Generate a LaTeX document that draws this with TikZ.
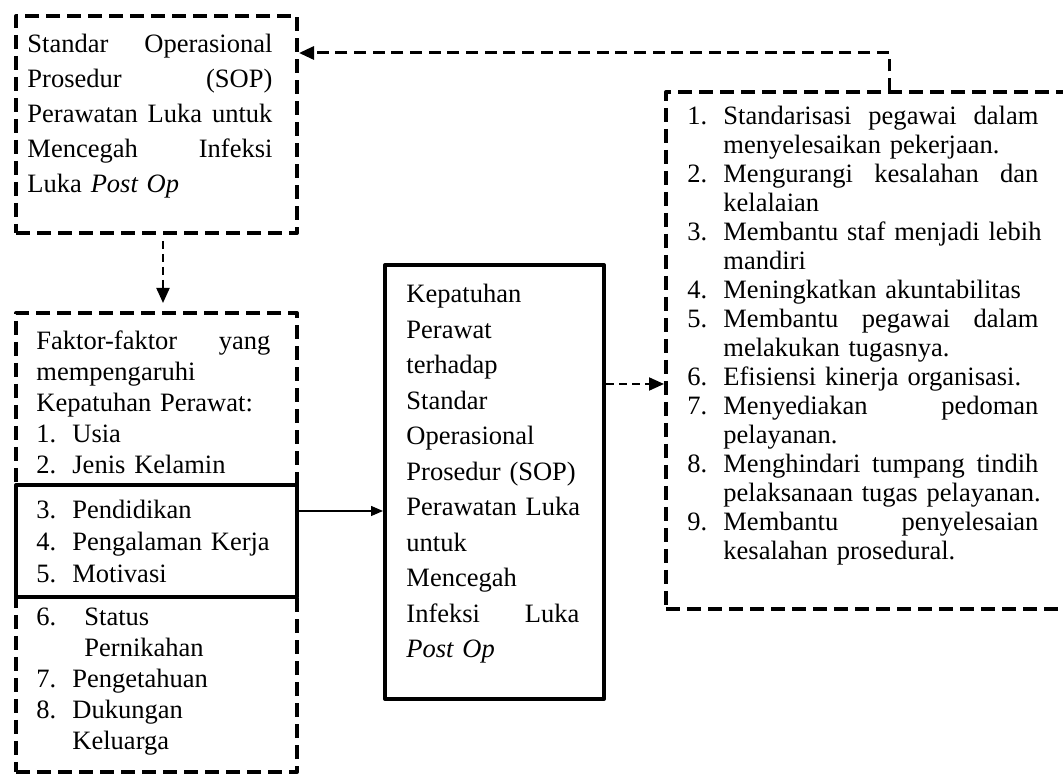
\documentclass[tikz,border=0pt]{standalone}
\usepackage{fontspec}
\setmainfont{Liberation Serif}
\usetikzlibrary{arrows.meta}
\newcommand{\numbox}[1]{\makebox[16.2pt][l]{#1}}
\newcommand{\numboxw}[1]{\makebox[21.6pt][l]{#1}}
\begin{document}
\begin{tikzpicture}[x=0.45pt,y=-0.45pt,
  dbox/.style={draw, line width=1.8pt, dash pattern=on 6.3pt off 3.15pt, line join=round, inner sep=0pt, anchor=north west},
  sbox/.style={draw, line width=1.8pt, line join=round, inner sep=0pt, anchor=north west},
  txt/.style={inner sep=0pt, anchor=base west, align=left},
  tipbig/.style={-{Triangle[length=6.75pt,width=5.85pt]}},
  dtop/.style={line width=1.35pt, dash pattern=on 5.4pt off 3pt, tipbig},
  dthin/.style={line width=0.9pt, dash pattern=on 3.6pt off 2.25pt, tipbig},
  sarrow/.style={line width=0.6pt, -{Triangle[length=5.4pt,width=4.5pt]}}]
\clip (0,0) rectangle (1063,775);
% boxes
\node[dbox, minimum width=126.45pt, minimum height=97.65pt] (tl) at (14,14) {};
\node[dbox, minimum width=126.45pt, minimum height=206.55pt] (lb) at (14,311) {};
\node[sbox, minimum width=126.45pt, minimum height=50.4pt] (sb) at (14,483) {};
\node[sbox, minimum width=98.55pt, minimum height=195.3pt] (mb) at (383,263) {};
\node[dbox, minimum width=187.2pt, minimum height=232.65pt] (rb) at (664,90) {};
% texts
\node[txt, text width=110.25pt, font=\fontsize{11.93pt}{15.66pt}\selectfont] (tltext) at (27,53) {%
Standar\hfill Operasional\\
Prosedur\hfill (SOP)\\
Perawatan\hfill Luka\hfill untuk\\
Mencegah\hfill Infeksi\\
Luka \textit{Post Op}};
\node[txt, text width=105.3pt, font=\fontsize{11.93pt}{13.95pt}\selectfont] (lbtext) at (36,350) {%
Faktor-faktor\hfill yang\\
mempengaruhi\\
Kepatuhan Perawat:\\
\numbox{1.}Usia\\
\numbox{2.}Jenis Kelamin};
\node[txt, text width=105.3pt, font=\fontsize{11.93pt}{14.3pt}\selectfont] (sbtext) at (36,519) {%
\numbox{3.}Pendidikan\\
\numbox{4.}\mbox{Pengalaman Kerja}\\
\numbox{5.}Motivasi};
\node[txt, text width=105.3pt, font=\fontsize{11.93pt}{13.95pt}\selectfont] (lbtext2) at (36,626) {%
\numboxw{6.}Status\\
\hspace*{21.6pt}Pernikahan\\
\numbox{7.}Pengetahuan\\
\numbox{8.}Dukungan\\
\hspace*{16.2pt}Keluarga};
\node[txt, text width=77.85pt, font=\fontsize{11.93pt}{15.98pt}\selectfont] (mbtext) at (406,302.5) {%
Kepatuhan\\
Perawat\\
terhadap\\
Standar\\
Operasional\\
\mbox{Prosedur (SOP)}\\
\mbox{Perawatan Luka}\\
untuk\\
Mencegah\\
Infeksi\hfill Luka\\
\textit{Post Op}};
\node[txt, text width=157.95pt, font=\fontsize{11.93pt}{13.05pt}\selectfont] (rbtext) at (687,125) {%
\numbox{1.}Standarisasi\hfill pegawai\hfill dalam\\
\hspace*{16.2pt}menyelesaikan pekerjaan.\\
\numbox{2.}Mengurangi\hfill kesalahan\hfill dan\\
\hspace*{16.2pt}kelalaian\\
\numbox{3.}\mbox{Membantu staf menjadi lebih}\\
\hspace*{16.2pt}mandiri\\
\numbox{4.}Meningkatkan akuntabilitas\\
\numbox{5.}Membantu\hfill pegawai\hfill dalam\\
\hspace*{16.2pt}melakukan tugasnya.\\
\numbox{6.}Efisiensi kinerja organisasi.\\
\numbox{7.}Menyediakan\hfill pedoman\\
\hspace*{16.2pt}pelayanan.\\
\numbox{8.}Menghindari\hfill tumpang\hfill tindih\\
\hspace*{16.2pt}\mbox{pelaksanaan tugas pelayanan.}\\
\numbox{9.}Membantu\hfill penyelesaian\\
\hspace*{16.2pt}kesalahan prosedural.};
% connectors
\coordinate (p1) at (163,0);
\coordinate (p2) at (0,511);
\coordinate (p3) at (0,384);
\coordinate (p4) at (889,53);
\draw[dthin, shorten <=2.7pt, shorten >=3.6pt] (tl.south -| p1) -- (lb.north -| p1);
\draw[sarrow] (sb.east |- p2) -- (mb.west |- p2);
\draw[dthin] (mb.east |- p3) -- (rb.west |- p3);
\draw[dtop] (rb.north -| p4) -- (p4) -- (tl.east |- p4);
\end{tikzpicture}
\end{document}
